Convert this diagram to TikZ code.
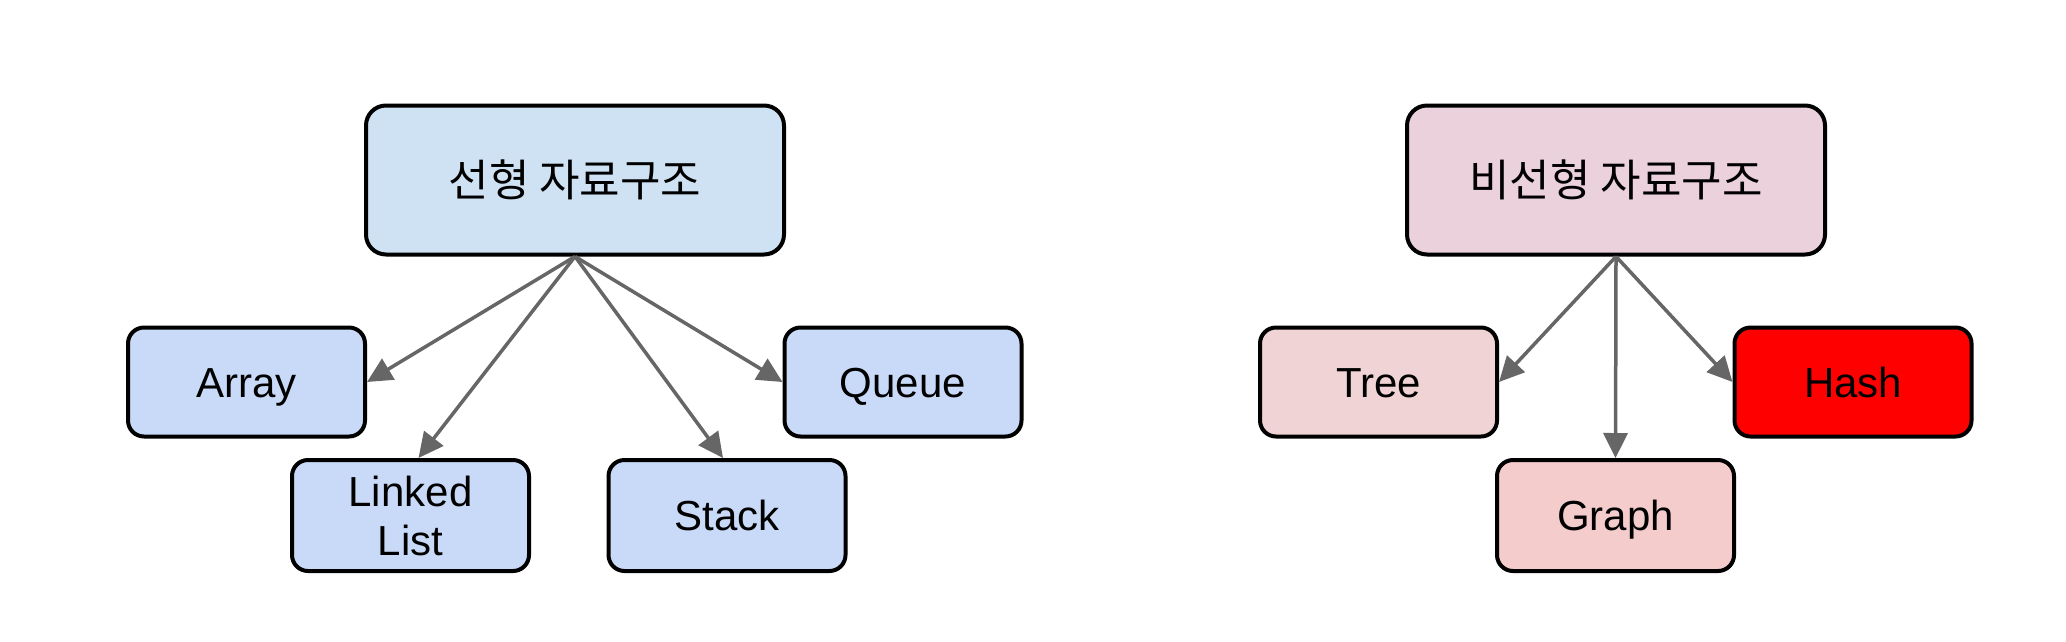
\documentclass[tikz,border=0pt]{standalone}
\usepackage{fontspec}
\setmainfont{Liberation Sans}
\newfontfamily\krfont{Noto Sans CJK KR}
\usetikzlibrary{arrows.meta}
\definecolor{topblue}{HTML}{CFE2F3}
\definecolor{kidblue}{HTML}{C9DAF8}
\definecolor{toppink}{HTML}{EAD1DC}
\definecolor{treepink}{HTML}{F0D3D4}
\definecolor{graphpink}{HTML}{F4CCCC}
\definecolor{hashred}{HTML}{FF0000}
\definecolor{arrowgray}{HTML}{666666}
\tikzset{
  box/.style={draw=black, line width=4pt, rounded corners=20pt, align=center,
    inner sep=0pt, font=\fontsize{42}{49}\selectfont},
  topbox/.style={box, minimum width=418pt, minimum height=149pt, font=\fontsize{44}{52}\selectfont},
  kidbox/.style={box, rounded corners=16pt, minimum width=237pt, minimum height=109pt},
  oneline/.style={text height=30pt, text depth=0pt},
  conn/.style={draw=arrowgray, line width=3.5pt, -{Triangle[length=25pt,width=24pt]}}
}
\begin{document}
\begin{tikzpicture}[x=1pt,y=-1pt]
\useasboundingbox (0,0) rectangle (2066,641);
\node[topbox, fill=topblue] (lin) at (575,180) {\krfont 선형 자료구조};
\node[kidbox, oneline, fill=kidblue] (arr) at (246.5,382) {Array};
\node[kidbox, fill=kidblue, minimum height=111pt] (ll) at (410.5,515.5) {Linked\\List};
\node[kidbox, oneline, fill=kidblue, minimum height=111pt] (stk) at (727,515.5) {Stack};
\node[kidbox, oneline, fill=kidblue] (que) at (903,382) {Queue};
\node[topbox, fill=toppink] (non) at (1616,180) {\krfont 비선형 자료구조};
\node[kidbox, oneline, fill=treepink] (tree) at (1378.5,382) {Tree};
\node[kidbox, oneline, fill=graphpink, minimum height=111pt] (gr) at (1615.5,515.5) {Graph};
\node[kidbox, oneline, fill=hashred] (hash) at (1853,382) {Hash};
\draw[conn] (lin.south) -- (arr.east);
\draw[conn] (lin.south) -- ([xshift=8pt]ll.north);
\draw[conn] (lin.south) -- ([xshift=-4pt]stk.north);
\draw[conn] (lin.south) -- (que.west);
\draw[conn] (non.south) -- (tree.east);
\draw[conn] (non.south) -- (gr.north);
\draw[conn] (non.south) -- (hash.west);
\end{tikzpicture}
\end{document}
